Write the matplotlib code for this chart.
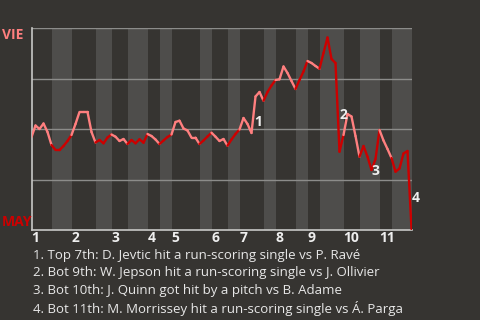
import numpy as np
import matplotlib.pyplot as plt
from matplotlib.collections import LineCollection

# win probability (VIE side) after each play
wp_px = [137, 125.5, 129, 123.5, 132, 145, 150, 150, 146, 141,
         135, 124, 112, 112, 112, 132, 142.5, 140, 143.3, 137.5,
         134.5, 136.7, 141, 139, 144, 140, 143.3, 139.3, 142.7, 134,
         136, 139.5, 144, 140.5, 137, 134.5, 122, 120.7, 128.5, 130.5,
         137.7, 137.7, 144, 140.5, 136.5, 132.7, 136.7, 141, 139, 145.7,
         139.5, 134, 129.5, 118, 124, 133, 96.5, 92, 100.7, 92,
         85.5, 80, 79.3, 66.5, 73, 81, 89, 80, 71.5, 61,
         63, 66, 68.7, 53, 37.5, 59, 63, 151.7, 135, 114,
         116.5, 136, 156.7, 146, 156.7, 170, 159, 130, 140.5, 149,
         158, 171.7, 168.5, 153.5, 151, 229]
wp = [(230 - v) / 202 for v in wp_px]

# plays per half inning (top 1, bot 1, top 2, ...)
half_plays = [5, 5, 6, 4, 4, 5, 3, 3, 7, 3, 4, 3, 6, 3, 5, 3, 3, 6, 4, 5, 3, 5]
innings = ['1', '2', '3', '4', '5', '6', '7', '8', '9', '10', '11']

events = [
    "1. Top 7th: D. Jevtic hit a run-scoring single vs P. Ravé",
    "2. Bot 9th: W. Jepson hit a run-scoring single vs J. Ollivier",
    "3. Bot 10th: J. Quinn got hit by a pitch vs B. Adame",
    "4. Bot 11th: M. Morrissey hit a run-scoring single vs Á. Parga",
]
event_play = [55, 78, 85, 95]
event_off = [(5, 8), (0, 14.5), (3, -1), (3, 22)]

bg = '#363431'
stripe = '#4e4d4b'
pink = '#ff7f7f'
red = '#cc0000'
plt.rcParams['font.family'] = ['Open Sans', 'DejaVu Sans']

fig = plt.figure(figsize=(4.8, 3.2), dpi=100, facecolor=bg)
ax = fig.add_axes([31.5/480, 90/320, 380/480, 202/320])
ax.set_facecolor(bg)

bounds = np.concatenate([[0], np.cumsum(half_plays)])
for k in range(len(half_plays)):
    if k % 2 == 1:
        ax.axvspan(bounds[k], bounds[k+1], color=stripe, lw=0, zorder=0)

for yv in [0.25, 0.5, 0.75, 1.0]:
    ax.axhline(yv, color='#8c8c8a', lw=1, zorder=1)

x = np.arange(len(wp))
half_idx = np.searchsorted(bounds, x[:-1] + 0.5) - 1
segs = [[(x[i], wp[i]), (x[i+1], wp[i+1])] for i in range(len(wp) - 1)]
cols = [pink if h % 2 == 0 else red for h in half_idx]
ax.add_collection(LineCollection(segs, colors=cols, linewidths=1.7,
                                 capstyle='round', joinstyle='round', zorder=3))

for k, p in enumerate(event_play):
    ax.annotate(str(k + 1), (x[p], wp[p]), xytext=event_off[k],
                textcoords='offset points', ha='center', va='center',
                color='#eeeeee', fontsize=10, fontweight='bold', zorder=4)

ax.set_xlim(0, len(wp) - 1)
ax.set_ylim(0, 1)
ax.set_xticks(bounds[:-1:2])
ax.set_xticklabels(innings, ha='left', color='#eeeeee', fontsize=10,
                   fontweight='bold')
ax.tick_params(axis='x', length=0, pad=1)
ax.set_yticks([])
for s in ['top', 'right']:
    ax.spines[s].set_visible(False)
for s in ['left', 'bottom']:
    ax.spines[s].set_color('#c8c8c6')
    ax.spines[s].set_linewidth(1.2)

fig.text(2/480, 1 - 28/320, 'VIE', color=pink, fontsize=10, fontweight='bold',
         ha='left', va='top')
fig.text(2/480, 1 - 229/320, 'MAY', color=red, fontsize=10, fontweight='bold',
         ha='left', va='bottom')

for k, t in enumerate(events):
    fig.text(33/480, 1 - (255 + k * 17.7)/320, t, color='#e8e8e8',
             fontsize=9.5, ha='left', va='center')

fig.savefig('out.png', dpi=100, facecolor=bg)
